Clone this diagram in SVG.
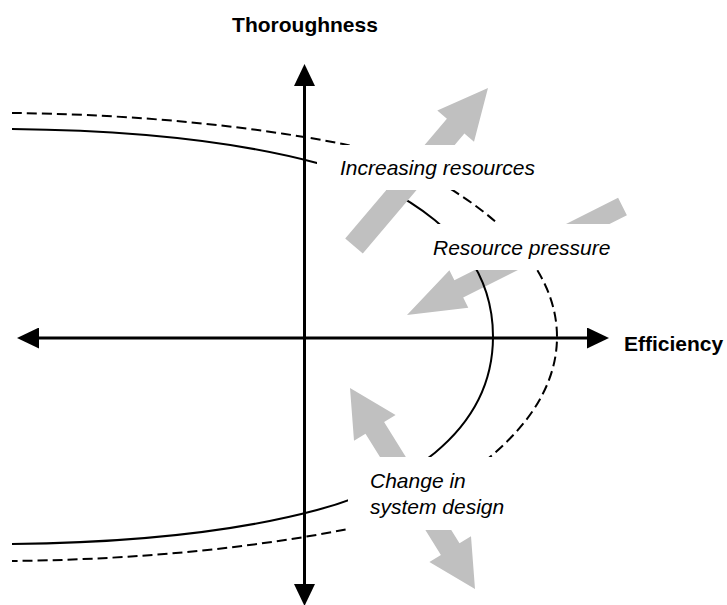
<svg xmlns="http://www.w3.org/2000/svg" width="727" height="605" viewBox="0 0 727 605">
  <style>
    .axis { stroke: #000; stroke-width: 3; fill: none; }
    .curve { stroke: #000; stroke-width: 2; fill: none; }
    .dashed { stroke-dasharray: 10 5; }
    .block { fill: #c0c0c0; stroke: none; }
    .mask { fill: #fff; stroke: none; }
    .title { font-family: "Liberation Sans", Arial, sans-serif; font-size: 21px; font-weight: bold; fill: #000; }
    .label { font-family: "Liberation Sans", Arial, sans-serif; font-size: 21px; font-style: italic; fill: #000; }
  </style>
  <defs>
    <marker id="axisHead" markerUnits="userSpaceOnUse" markerWidth="22" markerHeight="21" viewBox="0 0 22 21" refX="0" refY="10.5" orient="auto-start-reverse">
      <path d="M0,0 L22,10.5 L0,21 Z" fill="#000"/>
    </marker>
  </defs>

  <g id="axes">
    <line class="axis" x1="304.5" y1="86" x2="304.5" y2="584" marker-start="url(#axisHead)" marker-end="url(#axisHead)"/>
    <line class="axis" x1="39" y1="338" x2="587" y2="338" marker-start="url(#axisHead)" marker-end="url(#axisHead)"/>
  </g>

  <g id="connectors">
    <polygon id="arrow-resource-pressure" class="block" points="618.1,197.8 454.4,280.2 449.4,270.2 407,315 468.3,307.7 463.2,297.6 626.9,215.2"/>
    <path id="curve-solid" class="curve" d="M12,129 C110,130 220,137 317,163 C397,184.6 493,236.5 493,336.5 C493,436.5 397,488.4 317,510 C220,536 110,543 12,544"/>
    <path id="curve-dashed" class="curve dashed" d="M12,113 C110,114 230,122 343,144 C403,155.4 557,227 557,337 C557,447 403,518.6 343,530 C230,552 110,560 12,561"/>
    <polygon id="arrow-increasing" class="block" points="345.2,238.6 446.9,118.7 437.3,110.6 488,88 474,141.7 464.4,133.6 362.8,253.4"/>
    <polygon id="arrow-design" class="block" points="350,388 395.6,415 384.1,422.1 459.5,543.3 471,536.2 475,589 429.4,562 440.9,554.9 365.5,433.7 354,440.8"/>
  </g>

  <g id="title-thoroughness">
    <text class="title" x="305" y="32" text-anchor="middle">Thoroughness</text>
  </g>
  <g id="title-efficiency">
    <text class="title" x="624" y="351">Efficiency</text>
  </g>
  <g id="label-increasing">
    <rect class="mask" x="317" y="145" width="231" height="45"/>
    <text class="label" x="340" y="175">Increasing resources</text>
  </g>
  <g id="label-pressure">
    <rect class="mask" x="425" y="224" width="200" height="46"/>
    <text class="label" x="433" y="255">Resource pressure</text>
  </g>
  <g id="label-design">
    <rect class="mask" x="348" y="457" width="170" height="73"/>
    <text class="label" x="370" y="488">Change in</text>
    <text class="label" x="370" y="514">system design</text>
  </g>
</svg>
